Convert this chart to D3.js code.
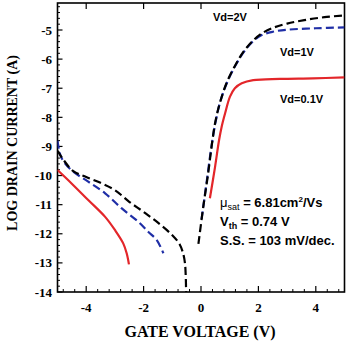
<!DOCTYPE html>
<html><head><meta charset="utf-8">
<script src="https://cdn.jsdelivr.net/npm/d3@7"></script>
<style>html,body{margin:0;padding:0;background:#fff;}svg{display:block;}</style>
</head><body>
<svg id="c" width="350" height="341"></svg>
<script>
// ---- data (gate voltage V, log10 drain current A) ----
const xTicks = [-4, -2, 0, 2, 4];
const yTicks = [-5, -6, -7, -8, -9, -10, -11, -12, -13, -14];

const vd2LeftX  = [-5, -4.8, -4.45, -4.0, -3.5, -3.0, -2.5, -2.0, -1.5, -1.0, -0.75, -0.63, -0.56, -0.53, -0.52];
const vd2LeftY  = [-9.15, -9.45, -9.85, -10.05, -10.25, -10.5, -10.9, -11.25, -11.62, -12.05, -12.35, -12.65, -13.0, -13.5, -14.0];
const vd2RightX = [-0.09, 0.08, 0.25, 0.37, 0.49, 0.66, 0.9, 1.2, 1.5, 1.8, 2.1, 2.5, 3.0, 3.6, 4.3, 5.0];
const vd2RightY = [-12.35, -11.07, -9.92, -9.0, -8.2, -7.5, -6.8, -6.2, -5.72, -5.38, -5.13, -4.93, -4.78, -4.66, -4.56, -4.5];

const vd1LeftX  = [-5, -4.95, -4.88, -4.74, -4.45, -3.93, -3.34, -2.76, -2.18, -1.84, -1.54, -1.31];
const vd1LeftY  = [-8.8, -9.1, -9.35, -9.58, -9.87, -10.21, -10.61, -11.13, -11.59, -11.93, -12.22, -12.67];
const vd1RightX = [0.02, 0.2, 0.35, 0.5, 0.66, 0.9, 1.2, 1.5, 1.8, 2.1, 2.5, 3.0, 4.0, 5.0];
const vd1RightY = [-11.5, -10.2, -9.1, -8.2, -7.5, -6.82, -6.22, -5.74, -5.4, -5.18, -5.06, -4.99, -4.94, -4.91];

const vd01LeftX  = [-5, -4.51, -3.93, -3.34, -3.0, -2.71, -2.59, -2.51];
const vd01LeftY  = [-9.81, -10.27, -10.84, -11.42, -11.87, -12.33, -12.67, -13.05];
const vd01RightX = [0.31, 0.49, 0.63, 0.72, 0.84, 1.01, 1.18, 1.42, 1.82, 2.75, 3.9, 5.0];
const vd01RightY = [-10.78, -9.7, -8.78, -8.32, -7.86, -7.29, -7.0, -6.83, -6.72, -6.68, -6.66, -6.63];

const seriesNames = ["Vd=2V", "Vd=1V", "Vd=0.1V"];
const annotations = ["6.81", "0.74", "103"];

// ---- drawing ----
const svg = d3.select("#c");
const L = 57.5, R = 344.5, T = 3, B = 292;
const x = d3.scaleLinear().domain([-5, 5]).range([L, R]);
const y = d3.scaleLinear().domain([-14, -5]).range([B, 30]);

const serif = "'Liberation Serif','Times New Roman',serif";
const sans = "'Liberation Sans',Arial,sans-serif";

const g = svg.append("g");
const minorX = d3.range(-4.8, 5.0001, 0.4).map(v => +v.toFixed(2)).filter(v => !xTicks.some(t => Math.abs(t - v) < 1e-6));
g.selectAll(".mx").data(minorX).join("line")
  .attr("x1", d => x(d)).attr("x2", d => x(d)).attr("y1", B).attr("y2", B - 3)
  .attr("stroke", "#000").attr("stroke-width", 1);
g.selectAll(".Mx").data(xTicks).join("line")
  .attr("x1", d => x(d)).attr("x2", d => x(d)).attr("y1", B).attr("y2", B - 6)
  .attr("stroke", "#000").attr("stroke-width", 1.2);
g.selectAll(".Mxt").data(xTicks).join("line")
  .attr("x1", d => x(d)).attr("x2", d => x(d)).attr("y1", T).attr("y2", T + 6)
  .attr("stroke", "#000").attr("stroke-width", 1.2);
const minorY = d3.range(-14, -4.1, 0.2).map(v => +v.toFixed(2)).filter(v => !yTicks.some(t => Math.abs(t - v) < 1e-6));
g.selectAll(".my").data(minorY).join("line")
  .attr("x1", L).attr("x2", L + 2.5).attr("y1", d => y(d)).attr("y2", d => y(d))
  .attr("stroke", "#000").attr("stroke-width", 1);
g.selectAll(".My").data(yTicks).join("line")
  .attr("x1", L).attr("x2", L + 5).attr("y1", d => y(d)).attr("y2", d => y(d))
  .attr("stroke", "#000").attr("stroke-width", 1.2);

svg.append("rect").attr("x", L).attr("y", T).attr("width", R - L).attr("height", B - T)
  .attr("fill", "none").attr("stroke", "#000").attr("stroke-width", 1.6);

svg.selectAll(".xl").data(xTicks).join("text")
  .attr("x", d => x(d)).attr("y", 312).attr("text-anchor", "middle")
  .attr("font-family", serif).attr("font-weight", "bold").attr("font-size", 13)
  .text(d => d < 0 ? "-" + Math.abs(d) : d);
svg.selectAll(".yl").data(yTicks).join("text")
  .attr("x", 52).attr("y", d => y(d)).attr("dy", "0.35em").attr("text-anchor", "end")
  .attr("font-family", serif).attr("font-weight", "bold").attr("font-size", 13)
  .text(d => "-" + Math.abs(d));

svg.append("text").attr("x", 200).attr("y", 337).attr("text-anchor", "middle")
  .attr("font-family", serif).attr("font-weight", "bold").attr("font-size", 16)
  .text("GATE VOLTAGE (V)");
svg.append("text").attr("transform", "translate(17,143) rotate(-90)").attr("text-anchor", "middle")
  .attr("font-family", serif).attr("font-weight", "bold").attr("font-size", 14)
  .text("LOG DRAIN CURRENT (A)");

svg.append("clipPath").attr("id", "pc").append("rect")
  .attr("x", L).attr("y", T).attr("width", R - L).attr("height", B - T);
const line = d3.line().x(d => x(d[0])).y(d => y(d[1])).curve(d3.curveCatmullRom.alpha(0.5));
const zip = (a, b) => a.map((v, i) => [v, b[i]]);
const curves = [
  {xs: vd01LeftX, ys: vd01LeftY, c: "#e3262a", dash: null},
  {xs: vd01RightX, ys: vd01RightY, c: "#e3262a", dash: null},
  {xs: vd1LeftX, ys: vd1LeftY, c: "#1f2ea6", dash: "8,4"},
  {xs: vd1RightX, ys: vd1RightY, c: "#1f2ea6", dash: "8,4"},
  {xs: vd2LeftX, ys: vd2LeftY, c: "#000", dash: "8,4"},
  {xs: vd2RightX, ys: vd2RightY, c: "#000", dash: "8,4"}
];
const cg = svg.append("g").attr("clip-path", "url(#pc)");
cg.selectAll("path").data(curves).join("path")
  .attr("d", d => line(zip(d.xs, d.ys)))
  .attr("fill", "none").attr("stroke", d => d.c).attr("stroke-width", 2.2)
  .attr("stroke-dasharray", d => d.dash);

const lbl = [[213, 21], [280, 56], [280, 103]];
svg.selectAll(".sl").data(seriesNames).join("text")
  .attr("x", (d, i) => lbl[i][0]).attr("y", (d, i) => lbl[i][1])
  .attr("font-family", sans).attr("font-weight", "bold").attr("font-size", 11)
  .text(d => d);

const ann = svg.append("g").attr("font-family", sans).attr("font-weight", "bold").attr("font-size", 13);
const t1 = ann.append("text").attr("x", 220).attr("y", 207);
t1.append("tspan").attr("font-weight", "normal").text("μ");
t1.append("tspan").attr("font-size", 9).attr("font-weight", "normal").attr("dy", 3).text("sat");
t1.append("tspan").attr("dy", -3).text(" = " + annotations[0] + "cm");
t1.append("tspan").attr("font-size", 8).attr("dy", -5).text("2");
t1.append("tspan").attr("dy", 5).text("/Vs");
const t2 = ann.append("text").attr("x", 220).attr("y", 226);
t2.append("tspan").text("V");
t2.append("tspan").attr("font-size", 9).attr("dy", 3).text("th");
t2.append("tspan").attr("dy", -3).text(" = " + annotations[1] + " V");
ann.append("text").attr("x", 220).attr("y", 245).text("S.S. = " + annotations[2] + " mV/dec.");
</script>
</body></html>
